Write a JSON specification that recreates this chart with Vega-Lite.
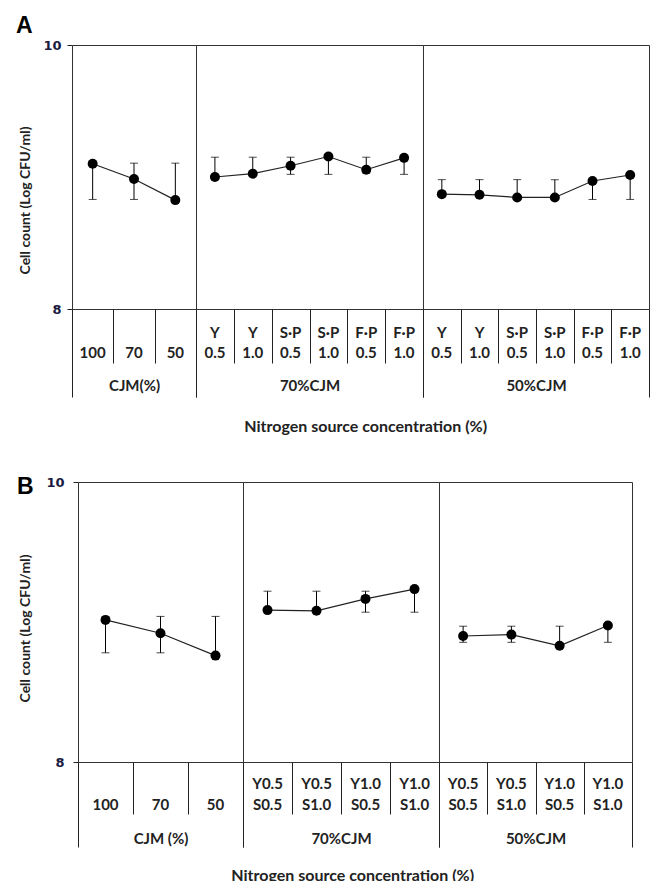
{
  "$schema": "https://vega.github.io/schema/vega-lite/v6.json",
  "padding": {"left": 15, "top": 14, "right": 2, "bottom": 0},
  "spacing": 40,
  "datasets": {
    "A": [
      {"grp": "CJM(%)", "cat": "100", "v": 9.10, "lo": 8.83, "hi": 9.10},
      {"grp": "CJM(%)", "cat": "70", "v": 8.985, "lo": 8.83, "hi": 9.105},
      {"grp": "CJM(%)", "cat": "50", "v": 8.825, "lo": 8.825, "hi": 9.105},
      {"grp": "70%CJM", "cat": "Y 0.5", "v": 9.00, "lo": 9.00, "hi": 9.15},
      {"grp": "70%CJM", "cat": "Y 1.0", "v": 9.025, "lo": 9.025, "hi": 9.15},
      {"grp": "70%CJM", "cat": "S·P 0.5", "v": 9.085, "lo": 9.02, "hi": 9.15},
      {"grp": "70%CJM", "cat": "S·P 1.0", "v": 9.155, "lo": 9.02, "hi": 9.155},
      {"grp": "70%CJM", "cat": "F·P 0.5", "v": 9.055, "lo": 9.03, "hi": 9.15},
      {"grp": "70%CJM", "cat": "F·P 1.0", "v": 9.145, "lo": 9.02, "hi": 9.145},
      {"grp": "50%CJM", "cat": "Y 0.5", "v": 8.87, "lo": 8.86, "hi": 8.98},
      {"grp": "50%CJM", "cat": "Y 1.0", "v": 8.865, "lo": 8.865, "hi": 8.98},
      {"grp": "50%CJM", "cat": "S·P 0.5", "v": 8.845, "lo": 8.845, "hi": 8.98},
      {"grp": "50%CJM", "cat": "S·P 1.0", "v": 8.845, "lo": 8.845, "hi": 8.98},
      {"grp": "50%CJM", "cat": "F·P 0.5", "v": 8.97, "lo": 8.83, "hi": 8.97},
      {"grp": "50%CJM", "cat": "F·P 1.0", "v": 9.015, "lo": 8.83, "hi": 9.015}
    ],
    "B": [
      {"grp": "CJM (%)", "cat": "100", "v": 9.015, "lo": 8.78, "hi": 9.015},
      {"grp": "CJM (%)", "cat": "70", "v": 8.92, "lo": 8.78, "hi": 9.04},
      {"grp": "CJM (%)", "cat": "50", "v": 8.76, "lo": 8.76, "hi": 9.04},
      {"grp": "70%CJM", "cat": "Y0.5 S0.5", "v": 9.085, "lo": 9.085, "hi": 9.22},
      {"grp": "70%CJM", "cat": "Y0.5 S1.0", "v": 9.08, "lo": 9.08, "hi": 9.22},
      {"grp": "70%CJM", "cat": "Y1.0 S0.5", "v": 9.165, "lo": 9.07, "hi": 9.22},
      {"grp": "70%CJM", "cat": "Y1.0 S1.0", "v": 9.235, "lo": 9.07, "hi": 9.235},
      {"grp": "50%CJM", "cat": "Y0.5 S0.5", "v": 8.90, "lo": 8.855, "hi": 8.97},
      {"grp": "50%CJM", "cat": "Y0.5 S1.0", "v": 8.91, "lo": 8.855, "hi": 8.97},
      {"grp": "50%CJM", "cat": "Y1.0 S0.5", "v": 8.83, "lo": 8.83, "hi": 8.97},
      {"grp": "50%CJM", "cat": "Y1.0 S1.0", "v": 8.975, "lo": 8.855, "hi": 8.975}
    ]
  },
  "vconcat": [
    {
      "spacing": 0,
      "bounds": "flush",
      "title": {"text": "Nitrogen source concentration (%)", "orient": "bottom", "anchor": "middle", "frame": "bounds", "dx": 33, "offset": 34, "baseline": "alphabetic", "font": "Lato", "fontSize": 16, "fontWeight": "bold", "color": "#222"},
      "hconcat": [
        {
          "width": 124, "height": 264,
          "title": {"text": "A", "anchor": "start", "frame": "bounds", "dx": -3, "font": "Liberation Sans", "fontSize": 23, "fontWeight": "bold", "color": "#000", "baseline": "alphabetic", "offset": -17},
          "data": {"name": "A"},
          "transform": [{"filter": "datum.grp === 'CJM(%)'"}],
          "resolve": {"axis": {"x": "independent"}},
          "layer": [
            {"mark": {"type": "rule", "color": "#000", "strokeWidth": 1},
             "encoding": {
               "x": {"field": "cat", "type": "nominal", "sort": null, "scale": {"type": "band", "paddingInner": 0, "paddingOuter": 0},
                     "axis": {"orient": "bottom", "title": "CJM(%)", "titleY": 81, "titleBaseline": "alphabetic", "titleFont": "Lato", "titleFontSize": 15, "titleFontWeight": "bold", "titleColor": "#222", "labels": false, "domain": false, "grid": false, "ticks": true, "tickBand": "extent", "tickColor": "#222", "tickWidth": 1, "tickSize": {"condition": {"test": "datum.index === 1 || !!datum.extra", "value": 88}, "value": 54}}},
               "y": {"field": "lo", "type": "quantitative", "scale": {"domain": [8, 10], "nice": false, "zero": false}, "title": "Cell count (Log CFU/ml)",
                     "axis": {"values": [8, 9, 10], "format": "d", "titleFont": "Lato", "titleFontSize": 14, "titleFontWeight": "bold", "titleColor": "#222", "titlePadding": 10, "titleY": 155, "labelFont": "DejaVu Sans", "labelFontSize": 13, "labelFontWeight": "bold", "labelColor": "#1a1a40", "labelPadding": 6, "tickSize": 5, "tickColor": "#222", "domain": false, "grid": false}},
               "y2": {"field": "hi"}}},
            {"mark": {"type": "tick", "orient": "horizontal", "size": 8, "thickness": 1, "color": "#000"},
             "encoding": {
               "x": {"field": "cat", "type": "nominal", "sort": null, "scale": {"type": "band", "paddingInner": 0, "paddingOuter": 0},
                     "axis": {"orient": "bottom", "title": null, "domain": false, "ticks": false, "tickSize": 0, "grid": false, "labelExpr": "length(split(datum.label, ' ')) > 1 ? split(datum.label, ' ') : ['', datum.label]", "labelBaseline": "bottom", "labelPadding": 31, "labelLineHeight": 20, "labelFont": "Lato", "labelFontSize": 15, "labelFontWeight": "bold", "labelColor": "#222", "labelAngle": 0, "labelAlign": "center", "labelOverlap": false}},
               "y": {"field": "hi", "type": "quantitative", "scale": {"domain": [8, 10], "nice": false, "zero": false}, "title": "Cell count (Log CFU/ml)"}}},
            {"mark": {"type": "tick", "orient": "horizontal", "size": 8, "thickness": 1, "color": "#000"},
             "encoding": {
               "x": {"field": "cat", "type": "nominal", "sort": null, "axis": null},
               "y": {"field": "lo", "type": "quantitative", "title": "Cell count (Log CFU/ml)"}}},
            {"mark": {"type": "line", "color": "#222", "strokeWidth": 1.2},
             "encoding": {
               "x": {"field": "cat", "type": "nominal", "sort": null, "axis": null},
               "y": {"field": "v", "type": "quantitative", "title": "Cell count (Log CFU/ml)"}}},
            {"mark": {"type": "circle", "size": 100, "color": "#000", "opacity": 1},
             "encoding": {
               "x": {"field": "cat", "type": "nominal", "sort": null, "axis": null},
               "y": {"field": "v", "type": "quantitative", "title": "Cell count (Log CFU/ml)"}}}
          ]
        },
        {
          "width": 227, "height": 264,
          "data": {"name": "A"},
          "transform": [{"filter": "datum.grp === '70%CJM'"}],
          "resolve": {"axis": {"x": "independent"}},
          "layer": [
            {"mark": {"type": "rule", "color": "#000", "strokeWidth": 1},
             "encoding": {
               "x": {"field": "cat", "type": "nominal", "sort": null, "scale": {"type": "band", "paddingInner": 0, "paddingOuter": 0},
                     "axis": {"orient": "bottom", "title": "70%CJM", "titleY": 81, "titleBaseline": "alphabetic", "titleFont": "Lato", "titleFontSize": 15, "titleFontWeight": "bold", "titleColor": "#222", "labels": false, "domain": false, "grid": false, "ticks": true, "tickBand": "extent", "tickColor": "#222", "tickWidth": 1, "tickSize": {"condition": {"test": "datum.index === 1 || !!datum.extra", "value": 88}, "value": 54}}},
               "y": {"field": "lo", "type": "quantitative", "scale": {"domain": [8, 10], "nice": false, "zero": false}, "axis": null},
               "y2": {"field": "hi"}}},
            {"mark": {"type": "tick", "orient": "horizontal", "size": 8, "thickness": 1, "color": "#000"},
             "encoding": {
               "x": {"field": "cat", "type": "nominal", "sort": null, "scale": {"type": "band", "paddingInner": 0, "paddingOuter": 0},
                     "axis": {"orient": "bottom", "title": null, "domain": false, "ticks": false, "tickSize": 0, "grid": false, "labelExpr": "length(split(datum.label, ' ')) > 1 ? split(datum.label, ' ') : ['', datum.label]", "labelBaseline": "bottom", "labelPadding": 31, "labelLineHeight": 20, "labelFont": "Lato", "labelFontSize": 15, "labelFontWeight": "bold", "labelColor": "#222", "labelAngle": 0, "labelAlign": "center", "labelOverlap": false}},
               "y": {"field": "hi", "type": "quantitative", "axis": null}}},
            {"mark": {"type": "tick", "orient": "horizontal", "size": 8, "thickness": 1, "color": "#000"},
             "encoding": {
               "x": {"field": "cat", "type": "nominal", "sort": null, "axis": null},
               "y": {"field": "lo", "type": "quantitative", "axis": null}}},
            {"mark": {"type": "line", "color": "#222", "strokeWidth": 1.2},
             "encoding": {
               "x": {"field": "cat", "type": "nominal", "sort": null, "axis": null},
               "y": {"field": "v", "type": "quantitative", "axis": null}}},
            {"mark": {"type": "circle", "size": 100, "color": "#000", "opacity": 1},
             "encoding": {
               "x": {"field": "cat", "type": "nominal", "sort": null, "axis": null},
               "y": {"field": "v", "type": "quantitative", "axis": null}}}
          ]
        },
        {
          "width": 226, "height": 264,
          "data": {"name": "A"},
          "transform": [{"filter": "datum.grp === '50%CJM'"}],
          "resolve": {"axis": {"x": "independent"}},
          "layer": [
            {"mark": {"type": "rule", "color": "#000", "strokeWidth": 1},
             "encoding": {
               "x": {"field": "cat", "type": "nominal", "sort": null, "scale": {"type": "band", "paddingInner": 0, "paddingOuter": 0},
                     "axis": {"orient": "bottom", "title": "50%CJM", "titleY": 81, "titleBaseline": "alphabetic", "titleFont": "Lato", "titleFontSize": 15, "titleFontWeight": "bold", "titleColor": "#222", "labels": false, "domain": false, "grid": false, "ticks": true, "tickBand": "extent", "tickColor": "#222", "tickWidth": 1, "tickSize": {"condition": {"test": "datum.index === 1 || !!datum.extra", "value": 88}, "value": 54}}},
               "y": {"field": "lo", "type": "quantitative", "scale": {"domain": [8, 10], "nice": false, "zero": false}, "axis": null},
               "y2": {"field": "hi"}}},
            {"mark": {"type": "tick", "orient": "horizontal", "size": 8, "thickness": 1, "color": "#000"},
             "encoding": {
               "x": {"field": "cat", "type": "nominal", "sort": null, "scale": {"type": "band", "paddingInner": 0, "paddingOuter": 0},
                     "axis": {"orient": "bottom", "title": null, "domain": false, "ticks": false, "tickSize": 0, "grid": false, "labelExpr": "length(split(datum.label, ' ')) > 1 ? split(datum.label, ' ') : ['', datum.label]", "labelBaseline": "bottom", "labelPadding": 31, "labelLineHeight": 20, "labelFont": "Lato", "labelFontSize": 15, "labelFontWeight": "bold", "labelColor": "#222", "labelAngle": 0, "labelAlign": "center", "labelOverlap": false}},
               "y": {"field": "hi", "type": "quantitative", "axis": null}}},
            {"mark": {"type": "tick", "orient": "horizontal", "size": 8, "thickness": 1, "color": "#000"},
             "encoding": {
               "x": {"field": "cat", "type": "nominal", "sort": null, "axis": null},
               "y": {"field": "lo", "type": "quantitative", "axis": null}}},
            {"mark": {"type": "line", "color": "#222", "strokeWidth": 1.2},
             "encoding": {
               "x": {"field": "cat", "type": "nominal", "sort": null, "axis": null},
               "y": {"field": "v", "type": "quantitative", "axis": null}}},
            {"mark": {"type": "circle", "size": 100, "color": "#000", "opacity": 1},
             "encoding": {
               "x": {"field": "cat", "type": "nominal", "sort": null, "axis": null},
               "y": {"field": "v", "type": "quantitative", "axis": null}}}
          ]
        }
      ]
    },
    {
      "spacing": 0,
      "bounds": "flush",
      "title": {"text": "Nitrogen source concentration (%)", "orient": "bottom", "anchor": "middle", "frame": "bounds", "dx": 28, "offset": 33, "baseline": "alphabetic", "font": "Lato", "fontSize": 16, "fontWeight": "bold", "color": "#222"},
      "hconcat": [
        {
          "width": 6, "height": 280,
          "data": {"values": []},
          "mark": "point",
          "view": {"stroke": null}
        },
        {
          "width": 165, "height": 280,
          "title": {"text": "B", "anchor": "start", "frame": "bounds", "dx": -2, "font": "Liberation Sans", "fontSize": 23, "fontWeight": "bold", "color": "#000", "baseline": "alphabetic", "offset": -41},
          "data": {"name": "B"},
          "transform": [{"filter": "datum.grp === 'CJM (%)'"}],
          "resolve": {"axis": {"x": "independent"}},
          "layer": [
            {"mark": {"type": "rule", "color": "#000", "strokeWidth": 1},
             "encoding": {
               "x": {"field": "cat", "type": "nominal", "sort": null, "scale": {"type": "band", "paddingInner": 0, "paddingOuter": 0},
                     "axis": {"orient": "bottom", "title": "CJM (%)", "titleY": 81, "titleBaseline": "alphabetic", "titleFont": "Lato", "titleFontSize": 15, "titleFontWeight": "bold", "titleColor": "#222", "labels": false, "domain": false, "grid": false, "ticks": true, "tickBand": "extent", "tickColor": "#222", "tickWidth": 1, "tickSize": {"condition": {"test": "datum.index === 1 || !!datum.extra", "value": 85}, "value": 52}}},
               "y": {"field": "lo", "type": "quantitative", "scale": {"domain": [8, 10], "nice": false, "zero": false}, "title": "Cell count (Log CFU/ml)",
                     "axis": {"values": [8, 9, 10], "format": "d", "titleFont": "Lato", "titleFontSize": 14, "titleFontWeight": "bold", "titleColor": "#222", "titlePadding": 13, "titleY": 146, "labelFont": "DejaVu Sans", "labelFontSize": 13, "labelFontWeight": "bold", "labelColor": "#1a1a40", "labelPadding": 9, "tickSize": 5, "tickColor": "#222", "domain": false, "grid": false}},
               "y2": {"field": "hi"}}},
            {"mark": {"type": "tick", "orient": "horizontal", "size": 8, "thickness": 1, "color": "#000"},
             "encoding": {
               "x": {"field": "cat", "type": "nominal", "sort": null, "scale": {"type": "band", "paddingInner": 0, "paddingOuter": 0},
                     "axis": {"orient": "bottom", "title": null, "domain": false, "ticks": false, "tickSize": 0, "grid": false, "labelExpr": "length(split(datum.label, ' ')) > 1 ? split(datum.label, ' ') : ['', datum.label]", "labelBaseline": "bottom", "labelPadding": 29, "labelLineHeight": 21, "labelFont": "Lato", "labelFontSize": 15, "labelFontWeight": "bold", "labelColor": "#222", "labelAngle": 0, "labelAlign": "center", "labelOverlap": false}},
               "y": {"field": "hi", "type": "quantitative", "scale": {"domain": [8, 10], "nice": false, "zero": false}, "title": "Cell count (Log CFU/ml)"}}},
            {"mark": {"type": "tick", "orient": "horizontal", "size": 8, "thickness": 1, "color": "#000"},
             "encoding": {
               "x": {"field": "cat", "type": "nominal", "sort": null, "axis": null},
               "y": {"field": "lo", "type": "quantitative", "title": "Cell count (Log CFU/ml)"}}},
            {"mark": {"type": "line", "color": "#222", "strokeWidth": 1.2},
             "encoding": {
               "x": {"field": "cat", "type": "nominal", "sort": null, "axis": null},
               "y": {"field": "v", "type": "quantitative", "title": "Cell count (Log CFU/ml)"}}},
            {"mark": {"type": "circle", "size": 100, "color": "#000", "opacity": 1},
             "encoding": {
               "x": {"field": "cat", "type": "nominal", "sort": null, "axis": null},
               "y": {"field": "v", "type": "quantitative", "title": "Cell count (Log CFU/ml)"}}}
          ]
        },
        {
          "width": 196, "height": 280,
          "data": {"name": "B"},
          "transform": [{"filter": "datum.grp === '70%CJM'"}],
          "resolve": {"axis": {"x": "independent"}},
          "layer": [
            {"mark": {"type": "rule", "color": "#000", "strokeWidth": 1},
             "encoding": {
               "x": {"field": "cat", "type": "nominal", "sort": null, "scale": {"type": "band", "paddingInner": 0, "paddingOuter": 0},
                     "axis": {"orient": "bottom", "title": "70%CJM", "titleY": 81, "titleBaseline": "alphabetic", "titleFont": "Lato", "titleFontSize": 15, "titleFontWeight": "bold", "titleColor": "#222", "labels": false, "domain": false, "grid": false, "ticks": true, "tickBand": "extent", "tickColor": "#222", "tickWidth": 1, "tickSize": {"condition": {"test": "datum.index === 1 || !!datum.extra", "value": 85}, "value": 52}}},
               "y": {"field": "lo", "type": "quantitative", "scale": {"domain": [8, 10], "nice": false, "zero": false}, "axis": null},
               "y2": {"field": "hi"}}},
            {"mark": {"type": "tick", "orient": "horizontal", "size": 8, "thickness": 1, "color": "#000"},
             "encoding": {
               "x": {"field": "cat", "type": "nominal", "sort": null, "scale": {"type": "band", "paddingInner": 0, "paddingOuter": 0},
                     "axis": {"orient": "bottom", "title": null, "domain": false, "ticks": false, "tickSize": 0, "grid": false, "labelExpr": "length(split(datum.label, ' ')) > 1 ? split(datum.label, ' ') : ['', datum.label]", "labelBaseline": "bottom", "labelPadding": 29, "labelLineHeight": 21, "labelFont": "Lato", "labelFontSize": 15, "labelFontWeight": "bold", "labelColor": "#222", "labelAngle": 0, "labelAlign": "center", "labelOverlap": false}},
               "y": {"field": "hi", "type": "quantitative", "axis": null}}},
            {"mark": {"type": "tick", "orient": "horizontal", "size": 8, "thickness": 1, "color": "#000"},
             "encoding": {
               "x": {"field": "cat", "type": "nominal", "sort": null, "axis": null},
               "y": {"field": "lo", "type": "quantitative", "axis": null}}},
            {"mark": {"type": "line", "color": "#222", "strokeWidth": 1.2},
             "encoding": {
               "x": {"field": "cat", "type": "nominal", "sort": null, "axis": null},
               "y": {"field": "v", "type": "quantitative", "axis": null}}},
            {"mark": {"type": "circle", "size": 100, "color": "#000", "opacity": 1},
             "encoding": {
               "x": {"field": "cat", "type": "nominal", "sort": null, "axis": null},
               "y": {"field": "v", "type": "quantitative", "axis": null}}}
          ]
        },
        {
          "width": 193, "height": 280,
          "data": {"name": "B"},
          "transform": [{"filter": "datum.grp === '50%CJM'"}],
          "resolve": {"axis": {"x": "independent"}},
          "layer": [
            {"mark": {"type": "rule", "color": "#000", "strokeWidth": 1},
             "encoding": {
               "x": {"field": "cat", "type": "nominal", "sort": null, "scale": {"type": "band", "paddingInner": 0, "paddingOuter": 0},
                     "axis": {"orient": "bottom", "title": "50%CJM", "titleY": 81, "titleBaseline": "alphabetic", "titleFont": "Lato", "titleFontSize": 15, "titleFontWeight": "bold", "titleColor": "#222", "labels": false, "domain": false, "grid": false, "ticks": true, "tickBand": "extent", "tickColor": "#222", "tickWidth": 1, "tickSize": {"condition": {"test": "datum.index === 1 || !!datum.extra", "value": 85}, "value": 52}}},
               "y": {"field": "lo", "type": "quantitative", "scale": {"domain": [8, 10], "nice": false, "zero": false}, "axis": null},
               "y2": {"field": "hi"}}},
            {"mark": {"type": "tick", "orient": "horizontal", "size": 8, "thickness": 1, "color": "#000"},
             "encoding": {
               "x": {"field": "cat", "type": "nominal", "sort": null, "scale": {"type": "band", "paddingInner": 0, "paddingOuter": 0},
                     "axis": {"orient": "bottom", "title": null, "domain": false, "ticks": false, "tickSize": 0, "grid": false, "labelExpr": "length(split(datum.label, ' ')) > 1 ? split(datum.label, ' ') : ['', datum.label]", "labelBaseline": "bottom", "labelPadding": 29, "labelLineHeight": 21, "labelFont": "Lato", "labelFontSize": 15, "labelFontWeight": "bold", "labelColor": "#222", "labelAngle": 0, "labelAlign": "center", "labelOverlap": false}},
               "y": {"field": "hi", "type": "quantitative", "axis": null}}},
            {"mark": {"type": "tick", "orient": "horizontal", "size": 8, "thickness": 1, "color": "#000"},
             "encoding": {
               "x": {"field": "cat", "type": "nominal", "sort": null, "axis": null},
               "y": {"field": "lo", "type": "quantitative", "axis": null}}},
            {"mark": {"type": "line", "color": "#222", "strokeWidth": 1.2},
             "encoding": {
               "x": {"field": "cat", "type": "nominal", "sort": null, "axis": null},
               "y": {"field": "v", "type": "quantitative", "axis": null}}},
            {"mark": {"type": "circle", "size": 100, "color": "#000", "opacity": 1},
             "encoding": {
               "x": {"field": "cat", "type": "nominal", "sort": null, "axis": null},
               "y": {"field": "v", "type": "quantitative", "axis": null}}}
          ]
        }
      ]
    }
  ],
  "config": {
    "view": {"stroke": "#333", "strokeWidth": 1},
    "font": "Lato"
  }
}
